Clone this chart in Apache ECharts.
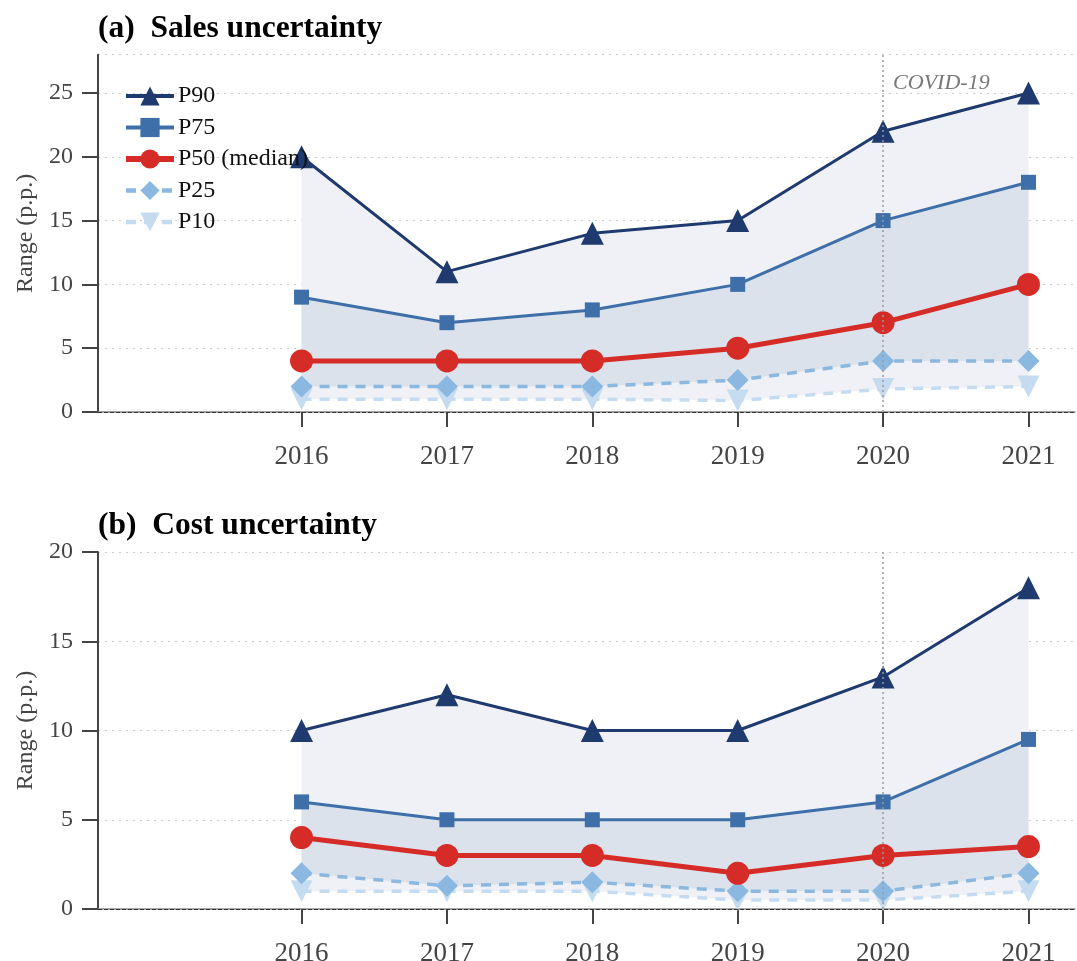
<!DOCTYPE html>
<html>
<head>
<meta charset="utf-8">
<script src="https://cdn.jsdelivr.net/npm/echarts@6/dist/echarts.min.js"></script>
<style>
  html, body { margin: 0; padding: 0; background: #fff; }
  #chart { width: 1077px; height: 961px; }
</style>
</head>
<body>
<div id="chart"></div>
<script>
// data
const years = [2016, 2017, 2018, 2019, 2020, 2021];
const yearTicks = [2016, 2017, 2018, 2019, 2020, 2021];

const salesP90 = [20, 11, 14, 15, 22, 25];
const salesP75 = [9, 7, 8, 10, 15, 18];
const salesP50 = [4, 4, 4, 5, 7, 10];
const salesP25 = [2, 2, 2, 2.5, 4, 4];
const salesP10 = [1, 1, 1, 0.9, 1.8, 2];

const costP90 = [10, 12, 10, 10, 13, 18];
const costP75 = [6, 5, 5, 5, 6, 9.5];
const costP50 = [4, 3, 3, 2, 3, 3.5];
const costP25 = [2, 1.3, 1.5, 1, 1, 2];
const costP10 = [1, 1, 1, 0.5, 0.5, 1];

const covidYear = 2020;

const FONT = '"Liberation Serif", "DejaVu Serif", serif';
const TXT = '#444';

const styles = {
    P90: { color: '#1f3a6e', width: 3, symbol: 'triangle', size: 23, type: 'solid', rotate: 0 },
    P75: { color: '#3f6fa8', width: 3, symbol: 'rect', size: 15, type: 'solid', rotate: 0 },
    P50: { color: '#d62c27', width: 5, symbol: 'circle', size: 23, type: 'solid', rotate: 0 },
    P25: { color: '#8ab8e0', width: 3.5, symbol: 'diamond', size: 22, type: [10, 8], rotate: 0 },
    P10: { color: '#c5dcf0', width: 3.5, symbol: 'triangle', size: 22, type: [10, 8], rotate: 180 }
};
const names = { P90: 'P90', P75: 'P75', P50: 'P50 (median)', P25: 'P25', P10: 'P10' };
const legendKeys = ['P90', 'P75', 'P50', 'P25', 'P10'];

function band(idx, lo, hi, color) {
    return {
        type: 'custom',
        xAxisIndex: idx, yAxisIndex: idx,
        silent: true,
        z: 1,
        data: years.map((y, i) => [y, lo[i], hi[i]]),
        encode: { x: 0, y: [1, 2] },
        renderItem: function (params, api) {
            if (params.dataIndex !== 0) return;
            const top = years.map((y, i) => api.coord([y, hi[i]]));
            const bot = years.map((y, i) => api.coord([y, lo[i]])).reverse();
            return {
                type: 'polygon',
                shape: { points: top.concat(bot) },
                style: { fill: color }
            };
        }
    };
}

function line(idx, key, values, extra) {
    const s = styles[key];
    return Object.assign({
        name: names[key],
        type: 'line',
        xAxisIndex: idx, yAxisIndex: idx,
        data: years.map((y, i) => [y, values[i]]),
        symbol: s.symbol,
        symbolSize: s.size,
        symbolRotate: s.rotate,
        showAllSymbol: true,
        z: 3,
        lineStyle: { color: s.color, width: s.width, type: s.type },
        itemStyle: { color: s.color },
        emphasis: { disabled: true }
    }, extra || {});
}

function covidLine(idx, withLabel) {
    return {
        type: 'line',
        xAxisIndex: idx, yAxisIndex: idx,
        data: [],
        z: 2,
        markLine: {
            silent: true,
            symbol: 'none',
            label: { show: false },
            lineStyle: { color: '#999', type: [2, 3], width: 1.5 },
            data: [{ xAxis: covidYear }]
        },
        markPoint: withLabel ? {
            silent: true,
            symbol: 'circle',
            symbolSize: 0,
            label: {
                show: true, position: 'right', distance: 10,
                formatter: 'COVID-19',
                fontFamily: FONT, fontStyle: 'italic', fontSize: 22, color: '#777'
            },
            data: [{ coord: [covidYear, 25.8] }]
        } : undefined
    };
}

function zeroLine(idx) {
    return {
        type: 'line',
        xAxisIndex: idx, yAxisIndex: idx,
        data: [],
        z: 2,
        markLine: {
            silent: true,
            symbol: 'none',
            label: { show: false },
            lineStyle: { color: '#333', type: [4, 2], width: 1 },
            data: [{ yAxis: 0 }]
        }
    };
}

function xAxis(idx) {
    return {
        type: 'value',
        gridIndex: idx,
        min: 2014.6,
        max: 2021.32,
        axisLine: { show: true, onZero: false, lineStyle: { color: '#888', width: 1.5 } },
        axisTick: { show: true, length: 15, customValues: yearTicks, lineStyle: { color: '#444', width: 2 } },
        axisLabel: { customValues: yearTicks, margin: 31, fontFamily: FONT, fontSize: 27, color: TXT,
            formatter: v => String(v) },
        splitLine: { show: false }
    };
}

function yAxis(idx, max) {
    return {
        type: 'value',
        gridIndex: idx,
        min: 0,
        max: max,
        interval: 5,
        name: 'Range (p.p.)',
        nameLocation: 'middle',
        nameGap: 60,
        nameTextStyle: { fontFamily: FONT, fontSize: 24, color: TXT },
        axisLine: { show: true, lineStyle: { color: '#444', width: 2 } },
        axisTick: { show: true, length: 16, lineStyle: { color: '#444', width: 2 } },
        axisLabel: { margin: 25, fontFamily: FONT, fontSize: 24, color: TXT,
            showMaxLabel: max % 5 === 0 },
        splitLine: { show: true, lineStyle: { color: '#ccc', type: [2, 5], width: 1.2 } }
    };
}

const chart = echarts.init(document.getElementById('chart'), null, { renderer: 'canvas' });

const option = {
    backgroundColor: '#fff',
    animation: false,
    title: [
        { text: '(a)  Sales uncertainty', left: 93, top: 8,
          textStyle: { fontFamily: FONT, fontSize: 31.5, fontWeight: 'bold', color: '#000' } },
        { text: '(b)  Cost uncertainty', left: 93, top: 505,
          textStyle: { fontFamily: FONT, fontSize: 31.5, fontWeight: 'bold', color: '#000' } }
    ],
    legend: {
        orient: 'vertical',
        left: 118,
        top: 79,
        z: 10,
        itemGap: 7.5,
        itemWidth: 48,
        itemHeight: 24,
        data: legendKeys.map(k => ({
            name: names[k],
            lineStyle: { width: styles[k].width + 1 }
        })),
        textStyle: { fontFamily: FONT, fontSize: 24, color: '#111', padding: [0, 0, 0, -1] }
    },
    grid: [
        { left: 98, right: 2, top: 54.7, height: 357.3, outerBoundsMode: 'none' },
        { left: 98, right: 2, top: 552, height: 357, outerBoundsMode: 'none' }
    ],
    xAxis: [xAxis(0), xAxis(1)],
    yAxis: [yAxis(0, 28), yAxis(1, 20)],
    series: [
        band(0, salesP10, salesP90, '#eff1f6'),
        band(0, salesP25, salesP75, '#dbe2eb'),
        band(1, costP10, costP90, '#eff1f6'),
        band(1, costP25, costP75, '#dbe2eb'),
        covidLine(0, true),
        covidLine(1, false),
        zeroLine(0),
        zeroLine(1),
        line(0, 'P10', salesP10),
        line(0, 'P25', salesP25),
        line(0, 'P75', salesP75),
        line(0, 'P50', salesP50, { z: 4 }),
        line(0, 'P90', salesP90, { z: 4 }),
        line(1, 'P10', costP10),
        line(1, 'P25', costP25),
        line(1, 'P75', costP75),
        line(1, 'P50', costP50, { z: 4 }),
        line(1, 'P90', costP90, { z: 4 })
    ]
};

chart.setOption(option);
window.addEventListener('resize', chart.resize);
</script>
</body>
</html>
